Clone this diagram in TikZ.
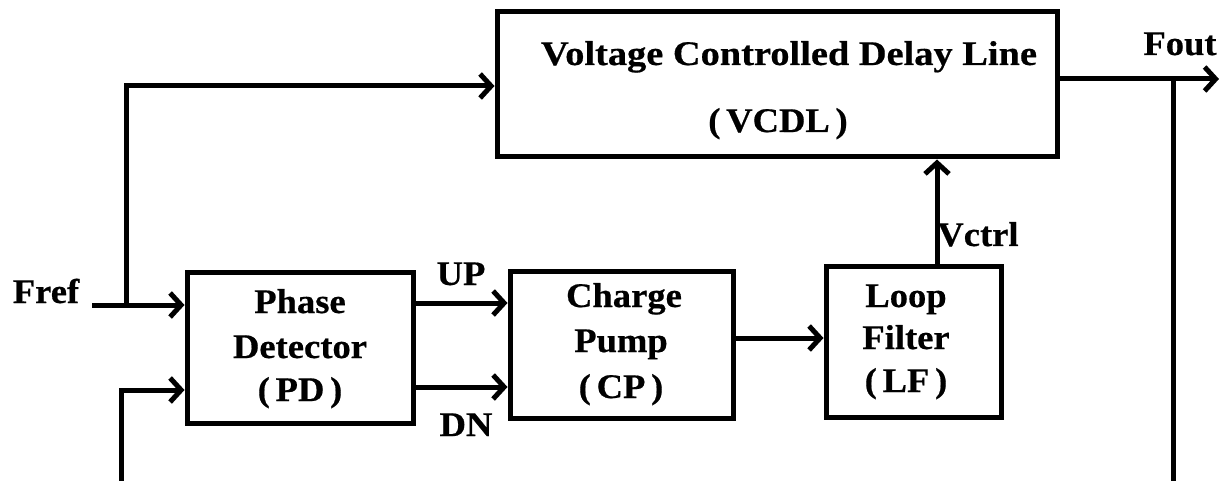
\documentclass[tikz,border=0pt]{standalone}
\usepackage{fontspec}
\setmainfont{Liberation Serif}[FakeStretch=1.06,FakeBold=0.5]
\usetikzlibrary{arrows.meta}
\begin{document}
\begin{tikzpicture}[x=1pt,y=-1pt,
  blk/.style={draw,line width=5pt,rectangle,inner sep=0pt},
  lbl/.style={font=\fontsize{34.5}{40}\selectfont\bfseries,anchor=base,inner sep=0pt},
  wire/.style={line width=5pt},
  arr/.style={line width=5pt,-{Straight Barb[length=11pt,width=24pt]}}]
\useasboundingbox (0,0) rectangle (1224,481);
% blocks
\node[blk,minimum width=560pt,minimum height=145pt] (vcdl) at (777,84.5) {};
\node[blk,minimum width=226pt,minimum height=150pt] (pd) at (300,348) {};
\node[blk,minimum width=223pt,minimum height=146pt] (cp) at (621.5,345) {};
\node[blk,minimum width=175pt,minimum height=150pt] (lf) at (913.5,342) {};
% block texts
\node[lbl] (vcdlA) at (789,65) {\scalebox{1.05}[1]{Voltage Controlled Delay Line}};
\node[lbl] (vcdlB) at (778,132) {(\,VCDL\,)};
\node[lbl] (pdA) at (300,313) {Phase};
\node[lbl] (pdB) at (300,358) {Detector};
\node[lbl] (pdC) at (300,401) {(\,PD\,)};
\node[lbl] (cpA) at (624,307) {Charge};
\node[lbl] (cpB) at (621,352) {Pump};
\node[lbl] (cpC) at (621,398) {(\,CP\,)};
\node[lbl] (lfA) at (906,307) {Loop};
\node[lbl] (lfB) at (906,349) {Filter};
\node[lbl] (lfC) at (906,392) {(\,LF\,)};
% signal labels
\node[lbl] (fref) at (46,303) {Fref};
\node[lbl] (fout) at (1180,55) {Fout};
\node[lbl] (up) at (461,285) {UP};
\node[lbl] (dn) at (466,436) {DN};
\node[lbl] (vctrl) at (978,246) {Vctrl};
% coordinates
\coordinate (frefin) at (92,305);
\coordinate (j1) at (126,305);
\coordinate (fb) at (1173,79);
\coordinate (foutend) at (1219,79);
\coordinate (fbbot) at (1173,481);
\coordinate (fbleft) at (121,481);
\coordinate (vc0) at (937,267);
% connectors
\draw[arr] (frefin) -- (j1 -| pd.west);
\draw[arr] (j1) -- (j1 |- 0,86) -- (vcdl.west |- 0,86);
\draw[arr] (vcdl.east |- fb) -- (foutend);
\draw[wire] (fb) -- (fbbot);
\draw[arr] (fbleft) -- (fbleft |- 0,390) -- (pd.west |- 0,390);
\draw[arr] (pd.east |- 0,303) -- (cp.west |- 0,303);
\draw[arr] (pd.east |- 0,387) -- (cp.west |- 0,387);
\draw[arr] (cp.east |- 0,338) -- (lf.west |- 0,338);
\draw[arr] (vc0 |- lf.north) -- (vc0 |- vcdl.south);
\end{tikzpicture}
\end{document}
